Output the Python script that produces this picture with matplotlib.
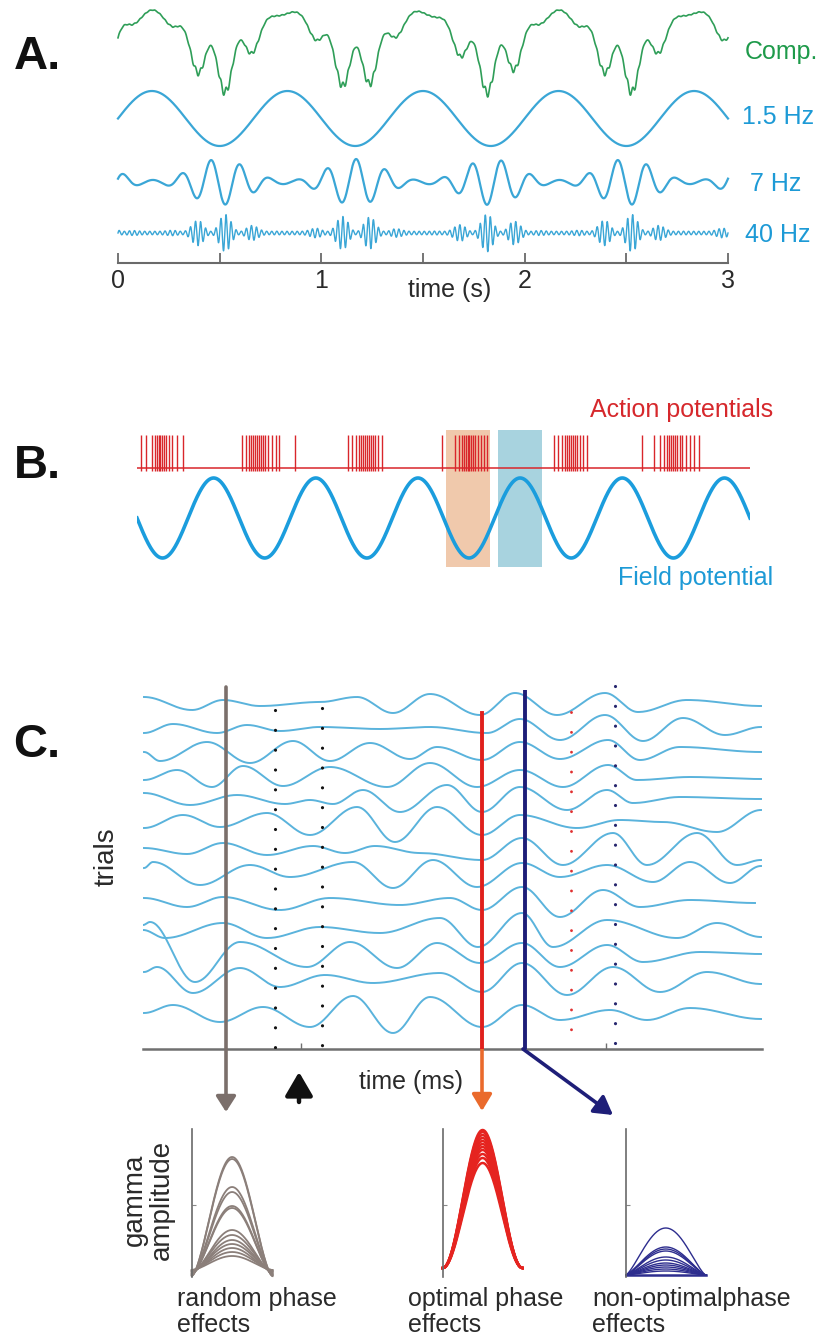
import numpy as np
import matplotlib
matplotlib.use("Agg")
import matplotlib.pyplot as plt
from matplotlib.patches import Rectangle

# ---------------- data ----------------
# Panel A: composite signal and its components (seconds)
a_duration = 3.0
a_slow_hz = 1.5
a_theta_hz = 7.0
a_gamma_hz = 40.0
a_theta_peak_time = 0.457
a_time_ticks = [0, 1, 2, 3]
a_labels = ["Comp.", "1.5 Hz", "7 Hz", "40 Hz"]

# Panel B: spike train (ms) and field potential
b_duration_ms = 1200
b_field_hz = 5.0
b_spikes_ms = [8, 18, 29, 35, 39, 43, 45, 49, 53, 57, 63, 69, 78, 90,
               206, 213, 219, 223, 227, 231, 235, 239, 243, 247, 251, 256, 264, 272, 278,
               309,
               413, 421, 429, 435, 439, 442, 446, 450, 454, 458, 462, 466, 472, 480,
               597,
               623, 630, 636, 640, 644, 648, 650, 654, 658, 662, 668, 674, 679, 685,
               816, 824, 832, 838, 842, 846, 850, 854, 858, 862, 868, 873, 881,
               989,
               1012, 1024, 1032, 1038, 1042, 1046, 1050, 1054, 1058, 1062, 1067, 1075, 1083, 1091, 1100]
b_trough_window_ms = (605, 691)
b_peak_window_ms = (707, 793)

# Panel C: 13 trials, turning points (time ms, offset level)
c_trials = [
    ([1, 49, 80, 117, 177, 214, 250, 287, 337, 372, 414, 462, 495, 544, 618],
     [352, 339, 349, 343, 347, 352, 336, 355, 334, 356, 334, 356, 337, 349, 343]),
    ([1, 30, 74, 104, 137, 177, 237, 287, 344, 377, 417, 462, 500, 540, 582, 618],
     [316, 325, 316, 324, 318, 322, 320, 322, 316, 330, 309, 334, 308, 331, 314, 322]),
    ([1, 17, 64, 107, 150, 187, 227, 267, 294, 339, 377, 417, 465, 497, 537, 618],
     [297, 288, 307, 286, 308, 288, 306, 290, 302, 289, 307, 290, 309, 289, 302, 297]),
    ([1, 34, 69, 100, 140, 187, 244, 287, 334, 377, 420, 465, 494, 547, 618],
     [269, 279, 262, 283, 263, 282, 262, 286, 262, 279, 262, 284, 269, 272, 270]),
    ([1, 47, 94, 142, 167, 190, 220, 257, 304, 339, 377, 424, 464, 490, 537, 618],
     [256, 244, 254, 245, 249, 245, 259, 237, 264, 237, 262, 239, 259, 246, 252, 250]),
    ([1, 40, 77, 124, 167, 214, 252, 294, 339, 377, 434, 477, 520, 574, 618],
     [221, 234, 222, 236, 214, 242, 207, 242, 214, 234, 221, 229, 227, 217, 239]),
    ([1, 44, 80, 124, 170, 202, 232, 277, 339, 379, 420, 470, 504, 554, 594, 618],
     [201, 195, 206, 194, 203, 196, 203, 196, 189, 211, 184, 216, 184, 216, 184, 189]),
    ([1, 10, 57, 107, 147, 210, 250, 290, 334, 379, 417, 464, 510, 547, 587, 618],
     [181, 187, 164, 184, 172, 187, 161, 189, 162, 186, 172, 184, 167, 187, 166, 183]),
    ([1, 44, 80, 137, 187, 257, 307, 339, 379, 417, 460, 497, 547, 612],
     [151, 142, 152, 139, 151, 144, 151, 139, 162, 132, 159, 142, 149, 146]),
    ([0, 22, 80, 124, 177, 237, 297, 335, 379, 410, 464, 534, 574, 618],
     [119, 111, 126, 111, 122, 116, 131, 102, 136, 102, 129, 111, 126, 112]),
    ([0, 7, 52, 97, 164, 207, 254, 294, 337, 379, 417, 464, 500, 557, 618],
     [124, 127, 67, 107, 82, 107, 81, 106, 86, 106, 82, 104, 87, 97, 95]),
    ([1, 14, 50, 97, 137, 182, 230, 297, 339, 379, 424, 470, 517, 564, 618],
     [77, 82, 56, 81, 62, 74, 66, 76, 57, 86, 54, 82, 57, 77, 65]),
    ([1, 30, 77, 120, 167, 210, 250, 287, 339, 379, 417, 467, 504, 547, 618],
     [36, 44, 27, 42, 22, 53, 16, 52, 22, 44, 29, 39, 29, 41, 30]),
]
c_random_time = 83
c_optimal_time = 339
c_nonopt_time = 382
c_stim_time = 156
c_black_dot_times = [132, 179]
c_red_dot_time = 428
c_navy_dot_time = 472
c_tick_times = [158, 463]

# Bottom: gamma amplitude curves (peak heights, baselines)
g_random_peaks = [120, 118, 90, 85, 71, 69, 47, 42, 37, 33, 29, 25, 21]
g_random_bases = [1, 1, 2, 2, 3, 3, 4, 5, 5, 6, 6, 7, 7]
g_optimal_peaks = [147, 145, 142, 139, 136, 133, 130, 127, 123, 119, 114]
g_optimal_base = 9
g_nonopt_peaks = [49, 30, 28, 26, 20, 17, 14, 12, 10, 8, 6]
g_nonopt_base = 2

# ---------------- figure ----------------
W, H = 823, 1339
plt.rcParams["font.family"] = ["Liberation Sans", "DejaVu Sans"]
fig = plt.figure(figsize=(W / 100, H / 100), dpi=100)


def box(x0, y0, x1, y1):
    return fig.add_axes([x0 / W, 1 - y1 / H, (x1 - x0) / W, (y1 - y0) / H])


def ftext(x, y, s, **kw):
    fig.text(x / W, 1 - y / H, s, **kw)


GREEN = "#2f9e58"
BLUE = "#3aa6d6"
BLUE_TXT = "#1d9ad6"
RED = "#d9262b"
GRAYTXT = "#2a2a2a"

# ---- Panel A ----
axA = box(118, 0, 728, 263)
t = np.linspace(0, a_duration, 5000)
slow = np.sin(2 * np.pi * a_slow_hz * t)
e_slow = (1 - slow) / 2
theta_phase = 2 * np.pi * a_theta_hz * (t - a_theta_peak_time)
theta = (0.09 + 0.91 * e_slow ** 1.3) * np.cos(theta_phase)
e_theta = (1 - np.cos(theta_phase)) / 2
gamma = (0.09 + 0.91 * e_slow ** 1.6 * e_theta ** 1.2) * np.sin(2 * np.pi * a_gamma_hz * t)
comp_raw = slow + 0.8 * theta + 0.15 * gamma
comp = 166 + (comp_raw - comp_raw.min()) / (comp_raw.max() - comp_raw.min()) * 87

axA.plot(t, comp, color=GREEN, lw=1.2)
axA.plot(t, 144.5 + 27.5 * slow, color=BLUE, lw=1.6)
axA.plot(t, 81 + 23 * theta, color=BLUE, lw=1.6)
axA.plot(t, 30 + 19 * gamma, color=BLUE, lw=1.0)
axA.set_xlim(0, a_duration)
axA.set_ylim(0, 263)
for s in ["top", "right", "left"]:
    axA.spines[s].set_visible(False)
axA.spines["bottom"].set_color("#6a6a6a")
axA.spines["bottom"].set_linewidth(1.5)
axA.set_yticks([])
axA.set_xticks(a_time_ticks)
axA.set_xticks(np.arange(0, a_duration + 0.01, 0.5), minor=True)
axA.tick_params(axis="x", which="both", direction="in", length=7, width=1.3,
                color="#6a6a6a", labelsize=18, labelcolor=GRAYTXT, pad=4)
axA.patch.set_alpha(0)
for ln in axA.lines:
    ln.set_clip_on(False)
ftext(450, 290, "time (s)", ha="center", va="center", fontsize=18, color=GRAYTXT)
ftext(745, 52, a_labels[0], ha="left", va="center", fontsize=18, color="#1e9a4a")
ftext(742, 117, a_labels[1], ha="left", va="center", fontsize=18, color=BLUE_TXT)
ftext(750, 184, a_labels[2], ha="left", va="center", fontsize=18, color=BLUE_TXT)
ftext(745, 235, a_labels[3], ha="left", va="center", fontsize=18, color=BLUE_TXT)

# ---- Panel B ----
axB = box(137, 425, 750, 570)
tb = np.linspace(0, b_duration_ms, 3000)
field = -np.sin(2 * np.pi * b_field_hz * tb / 1000.0)
axB.add_patch(Rectangle((b_trough_window_ms[0], 3), b_trough_window_ms[1] - b_trough_window_ms[0], 137,
                        facecolor="#f0c9ac", edgecolor="none", zorder=0))
axB.add_patch(Rectangle((b_peak_window_ms[0], 3), b_peak_window_ms[1] - b_peak_window_ms[0], 137,
                        facecolor="#a8d3df", edgecolor="none", zorder=0))
axB.plot(tb, 52 + 40 * field, color="#1b9ddd", lw=2.6, zorder=2)
axB.hlines(102, 0, b_duration_ms, color=RED, lw=1.1, zorder=2)
axB.vlines(b_spikes_ms, 99, 135, color=RED, lw=1.0, zorder=2)
axB.set_xlim(0, b_duration_ms)
axB.set_ylim(0, 145)
axB.axis("off")
ftext(773, 410, "Action potentials", ha="right", va="center", fontsize=18, color="#d6282c")
ftext(773, 578, "Field potential", ha="right", va="center", fontsize=18, color=BLUE_TXT)

# ---- Panel C ----
axC = box(143, 680, 762, 1049)
axC.set_xlim(0, 619)
axC.set_ylim(0, 369)
for s in ["top", "right", "left"]:
    axC.spines[s].set_visible(False)
axC.spines["bottom"].set_color("#707070")
axC.spines["bottom"].set_linewidth(1.8)
axC.set_xticks([])
axC.set_yticks([])
axC.patch.set_alpha(0)


def cosine_path(ts, vs, n=40):
    xs, ys = [], []
    for i in range(len(ts) - 1):
        u = np.linspace(0, 1, n, endpoint=False)
        w = (1 - np.cos(np.pi * u)) / 2
        xs.append(ts[i] + (ts[i + 1] - ts[i]) * u)
        ys.append(vs[i] + (vs[i + 1] - vs[i]) * w)
    xs.append([ts[-1]])
    ys.append([vs[-1]])
    return np.concatenate(xs), np.concatenate(ys)


for ts, vs in c_trials:
    x, y = cosine_path(ts, vs)
    axC.plot(x, y, color="#5ab3dc", lw=1.4, zorder=2)


def dotted(ax, x, ytop, ybot, color, lw, gap_px=19.8):
    gap_pt = gap_px * 0.72
    ax.plot([x, x], [ytop, ybot], color=color, lw=lw,
            linestyle=(0, (0.01, gap_pt / lw)), dash_capstyle="round", zorder=3)


dotted(axC, c_black_dot_times[0], 339, 1, "#111111", 2.3)
dotted(axC, c_black_dot_times[1], 341, 3, "#111111", 2.3)
dotted(axC, c_red_dot_time, 337, 0, "#e03030", 2.1)
dotted(axC, c_navy_dot_time, 363, 5, "#26266e", 2.3)
axC.vlines(c_tick_times, 0, 6, color="#707070", lw=1.0)

arrow_kw = dict(annotation_clip=False)
# random phase (gray)
axC.annotate("", xy=(c_random_time, -63), xytext=(c_random_time, 362),
             arrowprops=dict(arrowstyle="-|>,head_length=0.47,head_width=0.3", mutation_scale=20,
                             lw=2.6, color="#7b6f6b", shrinkA=0, shrinkB=0), **arrow_kw)
# optimal phase (red -> orange)
axC.plot([c_optimal_time, c_optimal_time], [336, 0], color="#e0201c", lw=2.8, zorder=4)
axC.annotate("", xy=(c_optimal_time, -62), xytext=(c_optimal_time, 0),
             arrowprops=dict(arrowstyle="-|>,head_length=0.5,head_width=0.3", mutation_scale=20,
                             lw=2.6, color="#ea6a2c", shrinkA=0, shrinkB=0), **arrow_kw)
# non-optimal phase (navy)
axC.plot([c_nonopt_time, c_nonopt_time], [359, 0], color="#1e1e78", lw=2.8, zorder=4,
         solid_capstyle="butt")
axC.annotate("", xy=(470, -66), xytext=(c_nonopt_time - 2, 0),
             arrowprops=dict(arrowstyle="-|>,head_length=0.55,head_width=0.32", mutation_scale=20,
                             lw=2.6, color="#1e1e78", shrinkA=0, shrinkB=0), **arrow_kw)
# stimulus arrow (black)
axC.annotate("", xy=(c_stim_time, -23), xytext=(c_stim_time, -53),
             arrowprops=dict(arrowstyle="-|>,head_length=0.72,head_width=0.42", mutation_scale=20,
                             lw=3.2, color="#111111", shrinkA=0, shrinkB=0), **arrow_kw)

ftext(107, 857, "trials", rotation=90, ha="center", va="center", fontsize=20, color=GRAYTXT)
ftext(411, 1082, "time (ms)", ha="center", va="center", fontsize=18, color=GRAYTXT)

# ---- Gamma amplitude panels ----
xg = np.linspace(0, 0.97, 200)
base_shape = np.sin(np.pi * xg / 0.97)


def gamma_axes(x0, x1):
    ax = box(x0, 1129, x1, 1277)
    ax.set_xlim(0, 1)
    ax.set_ylim(0, 148)
    for s in ["top", "right", "bottom"]:
        ax.spines[s].set_visible(False)
    ax.spines["left"].set_color("#6a6a6a")
    ax.spines["left"].set_linewidth(1.2)
    ax.set_xticks([])
    ax.set_yticks([72])
    ax.set_yticklabels([])
    ax.tick_params(axis="y", direction="in", length=3, width=0.8, color="#888888")
    ax.patch.set_alpha(0)
    return ax


ax1 = gamma_axes(191.7, 275)
bump1 = base_shape ** 1.6
for pk, bs in zip(g_random_peaks, g_random_bases):
    ax1.plot(xg, bs + (pk - bs) * bump1, color="#8b7f7a", lw=1.3, clip_on=False)

ax2 = gamma_axes(442.7, 525)
bump2 = base_shape ** 2
for pk in g_optimal_peaks:
    ax2.plot(xg, g_optimal_base + (pk - g_optimal_base) * bump2, color="#e52420", lw=1.8, clip_on=False)

ax3 = gamma_axes(626, 708)
bump3 = base_shape ** 1.3
for pk in g_nonopt_peaks:
    ax3.plot(xg, g_nonopt_base + (pk - g_nonopt_base) * bump3, color="#2d2d8e", lw=1.0, clip_on=False)
ax3.plot([0, 0.97], [g_nonopt_base, g_nonopt_base], color="#2d2d8e", lw=1.8, clip_on=False)

ftext(148, 1200, "gamma\namplitude", rotation=90, ha="center", va="center", fontsize=20,
      color=GRAYTXT, linespacing=1.05, multialignment="center")
ftext(177, 1312, "random phase\neffects", ha="left", va="center", fontsize=18,
      color=GRAYTXT, linespacing=1.15)
ftext(408, 1312, "optimal phase\neffects", ha="left", va="center", fontsize=18,
      color=GRAYTXT, linespacing=1.15)
ftext(592, 1312, "non-optimalphase\neffects", ha="left", va="center", fontsize=18,
      color=GRAYTXT, linespacing=1.15)

# ---- panel letters ----
for lab, y in [("A.", 57), ("B.", 466), ("C.", 745)]:
    ftext(37, y, lab, ha="center", va="center", fontsize=34, fontweight="bold", color="#111111")

fig.savefig("out.png", dpi=100)
